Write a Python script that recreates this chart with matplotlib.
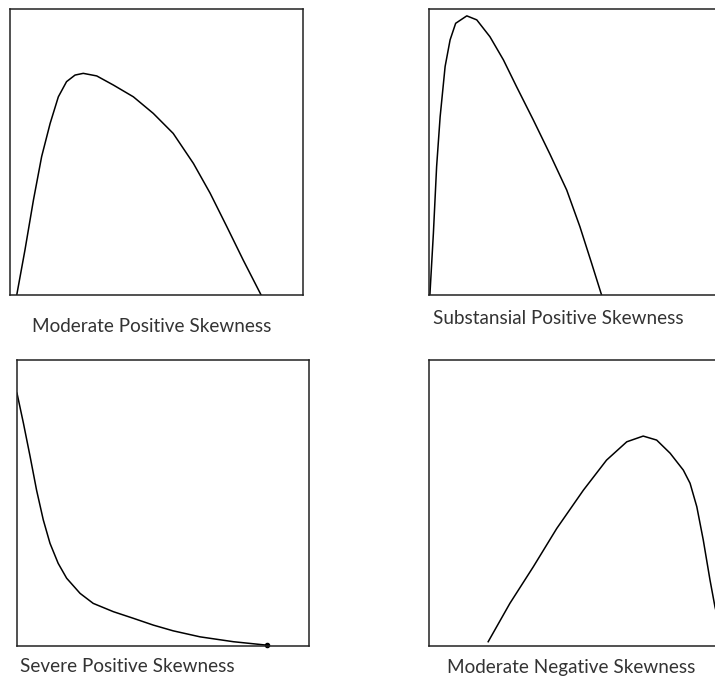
import matplotlib
matplotlib.use('Agg')
import matplotlib.pyplot as plt

W, H = 715, 677

# Moderate positive skewness (top left)
mod_pos_x = [2.3, 5.1, 8.0, 10.8, 13.7, 16.5, 19.3, 22.2, 25.0, 29.6, 35.3, 42.1, 48.9, 55.7, 62.6, 68.3, 74.0, 79.6, 85.7]
mod_pos_y = [0, 15.7, 33.2, 48.4, 60.0, 69.3, 74.6, 76.9, 77.5, 76.6, 73.4, 69.3, 63.5, 56.5, 46.0, 35.6, 23.9, 12.2, 0]

# Substansial positive skewness (top right)
sub_pos_x = [0.3, 1.5, 2.6, 3.8, 5.5, 7.2, 9.1, 12.9, 16.3, 20.8, 25.4, 29.9, 35.6, 41.3, 47.0, 51.5, 55.5, 58.9]
sub_pos_y = [0, 21.6, 44.9, 62.3, 79.9, 89.2, 95.0, 97.6, 96.2, 90.3, 82.2, 72.8, 61.2, 49.2, 36.7, 23.9, 11.1, 0]

# Severe positive skewness (bottom left)
sev_pos_x = [0, 2.2, 4.5, 6.7, 9.0, 11.3, 14.1, 17.0, 21.6, 26.1, 33.0, 39.8, 46.7, 53.5, 62.7, 74.1, 85.5]
sev_pos_y = [88.4, 77.9, 66.2, 54.5, 44.1, 35.9, 28.9, 23.7, 18.4, 14.9, 12.0, 9.7, 7.3, 5.3, 3.2, 1.5, 0.3]

# Moderate negative skewness (bottom right)
mod_neg_x = [20.2, 27.6, 35.6, 43.6, 52.7, 60.6, 67.5, 73.1, 77.7, 82.3, 86.8, 89.1, 91.4, 93.6, 95.9, 97.6, 100.5]
mod_neg_y = [1.5, 14.9, 27.7, 41.1, 54.5, 65.0, 71.4, 73.4, 72.0, 67.4, 61.5, 56.9, 48.7, 37.1, 23.1, 13.7, 2.0]

titles = ['Moderate Positive Skewness', 'Substansial Positive Skewness',
          'Severe Positive Skewness', 'Moderate Negative Skewness']

fig = plt.figure(figsize=(W / 100, H / 100), dpi=100)

# box positions in pixels: left, top, width, height
boxes = [(10, 9, 293, 286), (429, 9, 293, 286), (17, 360, 292, 286), (429, 360, 293, 286)]
# label positions in pixels: left, vertical centre
labels = [(32, 327), (433, 318), (20, 667), (447, 668)]
data = [(mod_pos_x, mod_pos_y), (sub_pos_x, sub_pos_y), (sev_pos_x, sev_pos_y), (mod_neg_x, mod_neg_y)]

for (l, t, w, h), (xs, ys), (tx, ty), title in zip(boxes, data, labels, titles):
    ax = fig.add_axes([l / W, 1 - (t + h) / H, w / W, h / H])
    ax.plot(xs, ys, color='black', lw=1.1, solid_joinstyle='round')
    ax.set_xlim(0, 100)
    ax.set_ylim(0, 100)
    ax.set_xticks([])
    ax.set_yticks([])
    for sp in ax.spines.values():
        sp.set_color('#222222')
        sp.set_linewidth(1.1)
    fig.text(tx / W, 1 - ty / H, title, ha='left', va='center',
             fontsize=13.6, color='#333333', family=['Lato', 'DejaVu Sans'])

# end marker on the severe curve
fig.axes[2].plot(sev_pos_x[-1], sev_pos_y[-1], 'o', color='black', ms=3, clip_on=False)

fig.savefig('out.png', dpi=100)
